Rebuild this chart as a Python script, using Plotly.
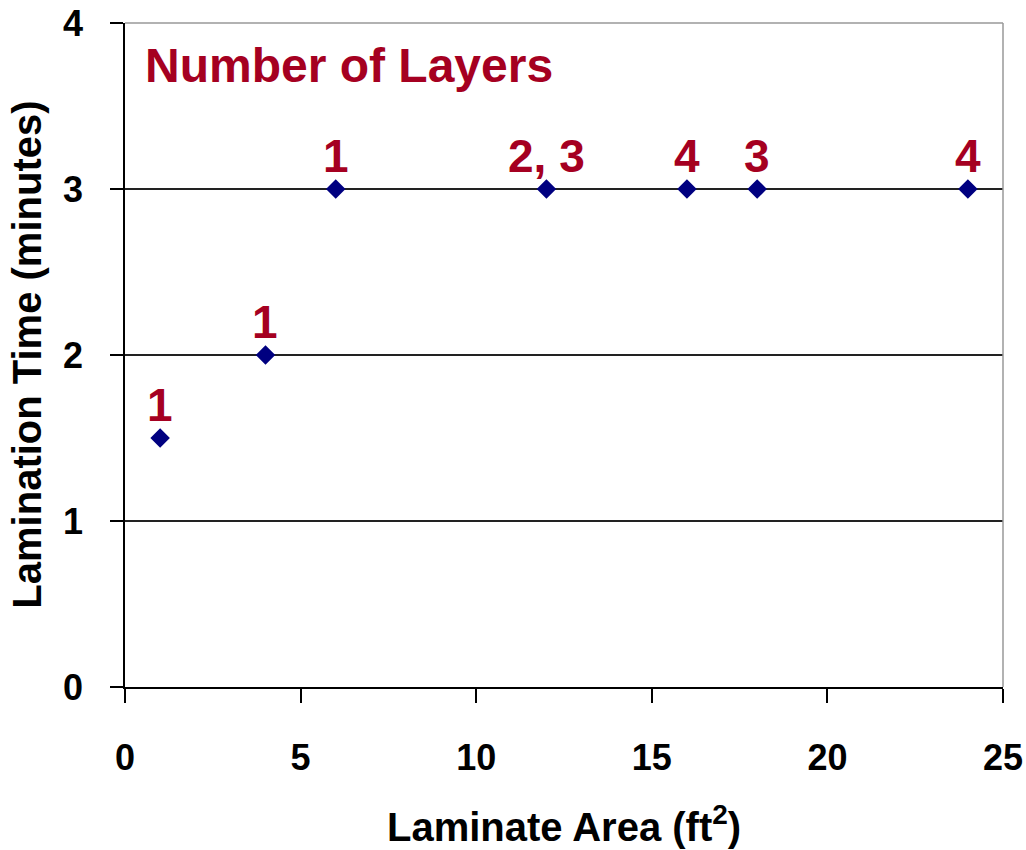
import plotly.graph_objects as go

# Data
area = [1, 4, 6, 12, 16, 18, 24]
lam_time = [1.5, 2, 3, 3, 3, 3, 3]
layers = ["1", "1", "1", "2, 3", "4", "3", "4"]

x_ticks = [0, 5, 10, 15, 20, 25]
y_ticks = [0, 1, 2, 3, 4]

FONT = "Arial, Liberation Sans, sans-serif"
RED = "#A50021"
NAVY = "#000080"

fig = go.Figure()
fig.add_trace(go.Scatter(
    x=area, y=lam_time, mode="markers",
    marker=dict(symbol="diamond", size=15, color=NAVY, line=dict(width=0)),
    cliponaxis=False, showlegend=False,
))

label_annotations = [
    dict(text=t, x=xv, y=yv, xref="x", yref="y", showarrow=False,
         xanchor="center", yanchor="bottom", yshift=5,
         font=dict(family=FONT, size=46, color=RED, weight="bold"))
    for xv, yv, t in zip(area, lam_time, layers)
]

fig.update_layout(
    width=1026, height=850,
    margin=dict(l=125, r=23, t=23, b=163, autoexpand=False),
    paper_bgcolor="white", plot_bgcolor="white",
    font=dict(family=FONT, color="black"),
    xaxis=dict(
        range=[0, 25], tickvals=x_ticks, showgrid=False, zeroline=False,
        automargin=False,
        showline=True, linecolor="black", linewidth=1.5,
        ticks="outside", ticklen=14, tickwidth=1.5, tickcolor="black",
        ticklabelstandoff=24,
        tickfont=dict(family=FONT, size=36, color="black", weight="bold"),
    ),
    yaxis=dict(
        range=[0, 4], tickvals=y_ticks, showgrid=True, gridcolor="#222222", gridwidth=1.6,
        automargin=False,
        zeroline=False, showline=True, linecolor="black", linewidth=1.5,
        ticks="outside", ticklen=13, tickwidth=1.5, tickcolor="black",
        ticklabelstandoff=20,
        tickfont=dict(family=FONT, size=36, color="black", weight="bold"),
    ),
    shapes=[
        dict(type="line", xref="paper", yref="paper", x0=0, x1=1, y0=1, y1=1,
             line=dict(color="#999999", width=1.5), layer="above"),
        dict(type="line", xref="paper", yref="paper", x0=1, x1=1, y0=0, y1=1,
             line=dict(color="#999999", width=1.5), layer="above"),
    ],
    annotations=label_annotations + [
        dict(text="Number of Layers", xref="paper", yref="paper",
             x=0.021, y=0.936, xanchor="left", yanchor="middle", showarrow=False,
             font=dict(family=FONT, size=48, color=RED, weight="bold")),
        dict(text="Laminate Area (ft<sup>2</sup>)", xref="paper", yref="paper",
             x=0.5, y=-0.206, xanchor="center", yanchor="middle", showarrow=False,
             font=dict(family=FONT, size=40, color="black", weight="bold")),
        dict(text="Lamination Time (minutes)", xref="paper", yref="paper",
             x=-0.112, y=0.5, xanchor="center", yanchor="middle", showarrow=False,
             textangle=-90,
             font=dict(family=FONT, size=40, color="black", weight="bold")),
    ],
)

fig.write_html(
    "out.html",
    config={"displayModeBar": False},
    post_script="document.body.style.margin='0';document.body.style.overflow='hidden';",
)
